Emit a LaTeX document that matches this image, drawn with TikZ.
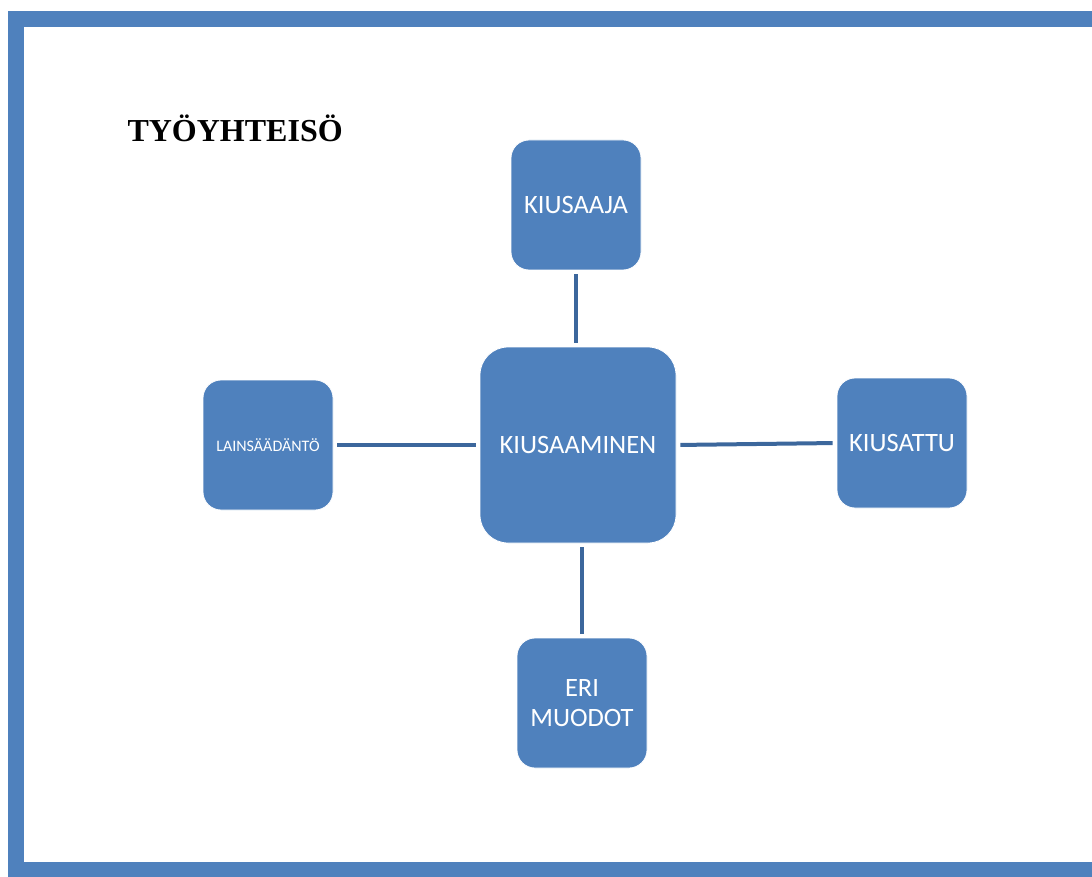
\documentclass[tikz,border=0pt]{standalone}
\usepackage{fontspec}
\setsansfont{Carlito}
\newfontfamily\titlefont{Liberation Serif}
\usetikzlibrary{positioning}
\definecolor{boxblue}{HTML}{4F81BD}
\definecolor{linkblue}{HTML}{3C679C}

\begin{document}
\begin{tikzpicture}[
    x=1pt, y=-1pt,
    topic/.style={fill=boxblue, draw=white, line width=0.8pt, rounded corners=18pt, minimum size=130pt, inner sep=0pt, align=center, text=white, font=\sffamily\fontsize{26.5}{30}\selectfont},
    core/.style={topic, rounded corners=28pt, minimum size=196pt},
    link/.style={draw=linkblue, line width=4pt, shorten <=4pt, shorten >=4pt}
]
\useasboundingbox (0,0) rectangle (1092,877);
\draw[boxblue, line width=16pt] (16,19) rectangle (1100,870);
\node[anchor=base west, font=\titlefont\bfseries\fontsize{32}{36}\selectfont] (title) at (124,142) {TYÖYHTEISÖ};

\node[core] (bullying) at (578,445) {KIUSAAMINEN};
\node[topic] (bully) at (576,205) {KIUSAAJA};
\node[topic] (victim) at (902,443) {KIUSATTU};
\node[topic, font=\sffamily\fontsize{16}{19}\selectfont] (law) at (268,445) {LAINSÄÄDÄNTÖ};
\node[topic] (forms) at (582,703) {ERI\\MUODOT};

\draw[link] (bully.south) -- (bully.south |- bullying.north);
\draw[link] (law) -- (bullying);
\draw[link] (bullying.east) -- (victim.west);
\draw[link] (bullying.south -| forms.north) -- (forms.north);
\end{tikzpicture}
\end{document}
